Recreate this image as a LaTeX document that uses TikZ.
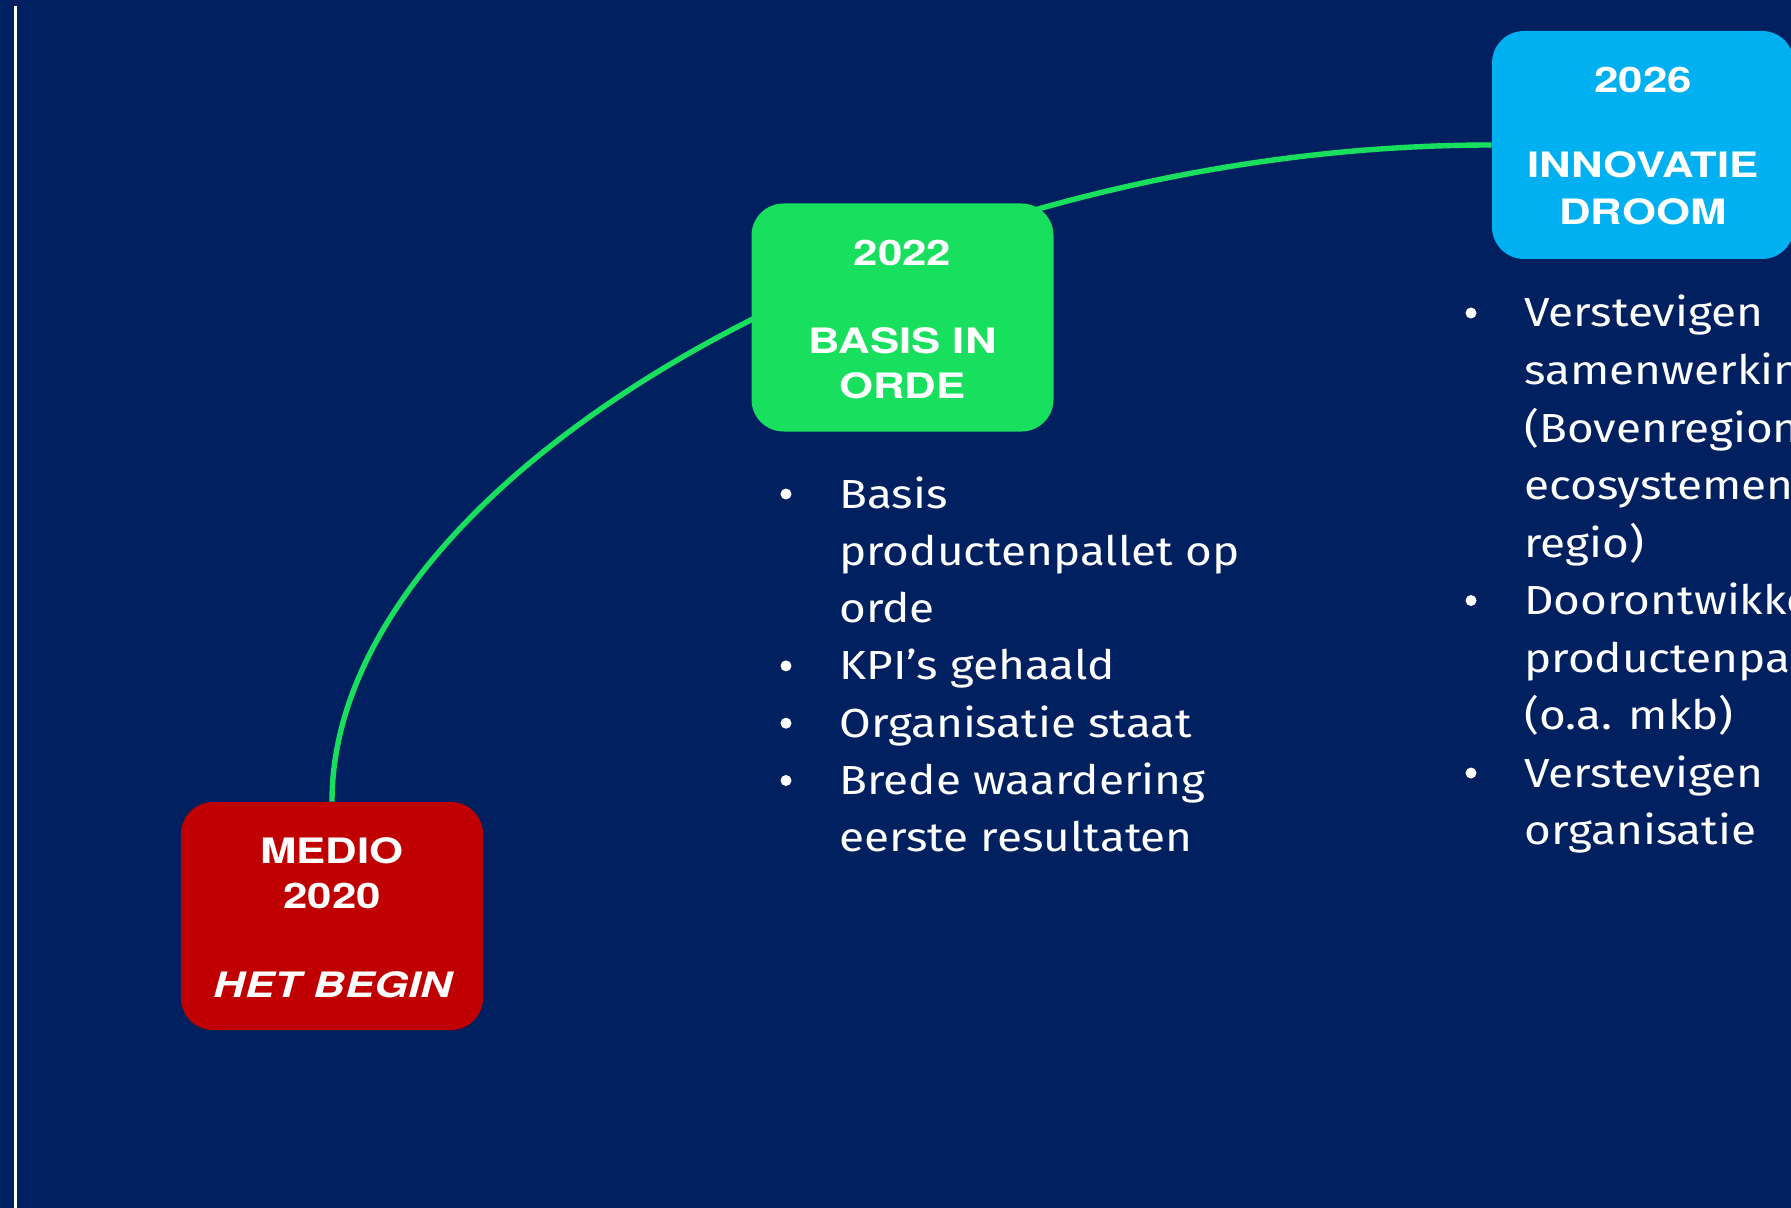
\documentclass[tikz,border=0pt]{standalone}
\usepackage{fontspec}
\setmainfont[FakeStretch=1.13]{Fira Sans}
\newfontfamily\boxfont[FakeStretch=1.25]{TeX Gyre Heros}
\definecolor{bg}{RGB}{0,32,96}
\definecolor{redbox}{RGB}{192,0,0}
\definecolor{greenbox}{RGB}{24,224,94}
\definecolor{bluebox}{RGB}{0,176,240}
\pgfdeclarelayer{back}
\pgfsetlayers{back,main}
\tikzset{
  milestone/.style={rounded corners=16pt, minimum width=151pt, minimum height=114pt, inner sep=0pt},
  boxtxt/.style={text=white, inner sep=0pt, anchor=base, font=\boxfont\bfseries\fontsize{17.5}{21}\selectfont},
  bodytxt/.style={text=white, inner sep=0pt, anchor=base west, font=\fontsize{20.3}{24}\selectfont},
  bulletdot/.style={circle, fill=white, inner sep=0pt, minimum size=5.5pt},
  conn/.style={draw=greenbox, line width=2.7pt}
}
\begin{document}
\begin{tikzpicture}[x=0.5pt,y=-0.5pt]
\useasboundingbox (0,0) rectangle (1791,1208);
\clip (0,0) rectangle (1791,1208);
% boxes
\node[milestone, fill=redbox] (red) at (332,916) {};
\node[milestone, fill=greenbox] (green) at (902.5,317.5) {};
\node[milestone, fill=bluebox] (blue) at (1643,145) {};
\begin{pgfonlayer}{back}
\fill[bg] (0,0) rectangle (1791,1208);
\draw[white, line width=1.5pt] (15,6) -- (15,1208);
\draw[conn] (red.north) .. controls +(0,-328) and +(-580,0) .. (blue.west);
\end{pgfonlayer}
% box texts
\node[boxtxt] (r1) at (332,863) {MEDIO};
\node[boxtxt] (r2) at (332,908) {2020};
\node[boxtxt] (r3) at (333,997) {\itshape HET BEGIN};
\node[boxtxt] (g1) at (902.5,266) {2022};
\node[boxtxt] (g2) at (902.5,353) {BASIS IN};
\node[boxtxt] (g3) at (902.5,398) {ORDE};
\node[boxtxt] (b1) at (1643,93) {2026};
\node[boxtxt] (b2) at (1643,178) {INNOVATIE};
\node[boxtxt] (b3) at (1643,225) {DROOM};
% middle list
\node[bulletdot] (mb1) at (786,494) {};
\node[bodytxt] (m1) at (839,508) {Basis};
\node[bodytxt] (m2) at (839,565.3) {productenpallet op};
\node[bodytxt] (m3) at (839,622.6) {orde};
\node[bulletdot] (mb2) at (786,665.9) {};
\node[bodytxt] (m4) at (839,679.9) {KPI’s gehaald};
\node[bulletdot] (mb3) at (786,723.2) {};
\node[bodytxt] (m5) at (839,737.2) {Organisatie staat};
\node[bulletdot] (mb4) at (786,780.5) {};
\node[bodytxt] (m6) at (839,794.5) {Brede waardering};
\node[bodytxt] (m7) at (839,851.8) {eerste resultaten};
% right list
\node[bulletdot] (rb1) at (1471,313) {};
\node[bodytxt] (q1) at (1524,327) {Verstevigen};
\node[bodytxt] (q2) at (1524,384.5) {samenwerking};
\node[bodytxt] (q3) at (1524,442) {(Bovenregionaal};
\node[bodytxt] (q4) at (1524,499.5) {ecosystemen};
\node[bodytxt] (q5) at (1524,557) {regio)};
\node[bulletdot] (rb2) at (1471,600.5) {};
\node[bodytxt] (q6) at (1524,614.5) {Doorontwikkeling};
\node[bodytxt] (q7) at (1524,672) {productenpallet};
\node[bodytxt] (q8) at (1524,729.5) {(o.a. mkb)};
\node[bulletdot] (rb3) at (1471,773) {};
\node[bodytxt] (q9) at (1524,787) {Verstevigen};
\node[bodytxt] (q10) at (1524,844.5) {organisatie};
\end{tikzpicture}
\end{document}
